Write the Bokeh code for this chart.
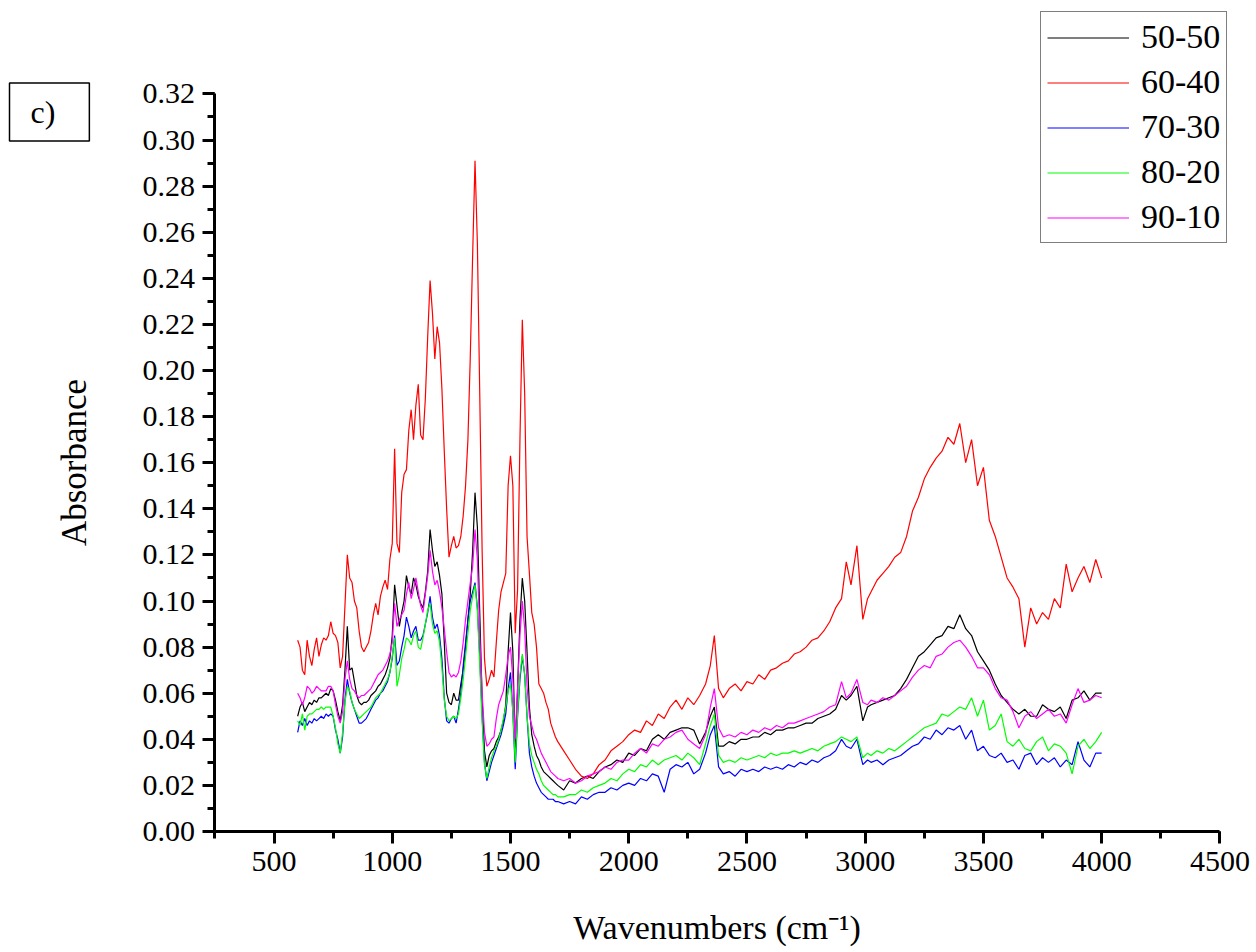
from bokeh.plotting import figure
from bokeh.models import (Range1d, SingleIntervalTicker, NumeralTickFormatter,
                          Legend, LegendItem, Label)
from bokeh.embed import file_html
from bokeh.resources import INLINE

# FTIR absorbance spectra of the five blend ratios
wavenumber = [
    600, 610, 620, 630, 640, 650, 660, 670, 680, 690,
    700, 710, 720, 730, 740, 750, 760, 770, 780, 790,
    800, 810, 820, 830, 840, 850, 860, 870, 880, 890,
    900, 910, 920, 930, 940, 950, 960, 970, 980, 990,
    1000, 1010, 1020, 1030, 1040, 1050, 1060, 1070, 1080, 1090,
    1100, 1110, 1120, 1130, 1140, 1150, 1160, 1170, 1180, 1190,
    1200, 1210, 1220, 1230, 1240, 1250, 1260, 1270, 1280, 1290,
    1300, 1310, 1320, 1330, 1340, 1350, 1360, 1370, 1380, 1390,
    1400, 1410, 1420, 1430, 1440, 1450, 1460, 1470, 1480, 1490,
    1500, 1510, 1520, 1530, 1540, 1550, 1560, 1570, 1580, 1590,
    1600, 1610, 1620, 1630, 1640, 1650, 1660, 1670, 1680, 1690,
    1700,
    1725, 1750, 1775, 1800, 1825, 1850, 1875, 1900, 1925, 1950, 1975,
    2000, 2025, 2050, 2075, 2100, 2125, 2150, 2175, 2200, 2225, 2250, 2275, 2300, 2325,
    2345, 2362, 2380,
    2400, 2425, 2450, 2475, 2500, 2525, 2550, 2575, 2600, 2625, 2650, 2675, 2700,
    2725, 2750, 2775, 2800, 2825, 2850, 2875, 2900,
    2920, 2940, 2965, 2990, 3010,
    3025, 3050, 3075, 3100, 3125, 3150, 3175, 3200, 3225, 3250,
    3275, 3300, 3325, 3350, 3375, 3400, 3425, 3450, 3475, 3500,
    3525, 3550, 3575, 3600, 3625, 3650, 3675, 3700, 3725, 3750,
    3775, 3800, 3825, 3850, 3875, 3900, 3925, 3950, 3975, 4000,
]

abs_50_50 = [
    0.050, 0.054, 0.056, 0.052, 0.054, 0.056, 0.055, 0.057, 0.056, 0.058,
    0.058, 0.059, 0.060, 0.059, 0.062, 0.061, 0.057, 0.052, 0.048, 0.055,
    0.070, 0.089, 0.070, 0.071, 0.065, 0.059, 0.056, 0.055, 0.056, 0.056,
    0.057, 0.059, 0.060, 0.061, 0.063, 0.064, 0.066, 0.068, 0.071, 0.075,
    0.085, 0.107, 0.098, 0.089, 0.095, 0.100, 0.111, 0.106, 0.103, 0.110,
    0.107, 0.102, 0.099, 0.097, 0.104, 0.113, 0.131, 0.122, 0.115, 0.117,
    0.111, 0.103, 0.082, 0.060, 0.056, 0.055, 0.060, 0.057, 0.057, 0.064,
    0.070, 0.080, 0.092, 0.103, 0.122, 0.147, 0.132, 0.095, 0.058, 0.035,
    0.028, 0.033, 0.035, 0.036, 0.039, 0.041, 0.044, 0.048, 0.055, 0.078,
    0.095, 0.078, 0.036, 0.062, 0.092, 0.110, 0.100, 0.078, 0.054, 0.042,
    0.037, 0.033, 0.031, 0.028, 0.026, 0.025, 0.024, 0.023, 0.022, 0.021,
    0.020,
    0.018, 0.022, 0.021, 0.023, 0.024, 0.023, 0.026, 0.028, 0.029, 0.031, 0.030,
    0.034, 0.033, 0.036, 0.035, 0.040, 0.042, 0.040, 0.043, 0.044, 0.045, 0.045, 0.044, 0.038, 0.043,
    0.050, 0.054, 0.037,
    0.037, 0.039, 0.038, 0.040, 0.040, 0.041, 0.041, 0.043, 0.042, 0.044, 0.044, 0.045, 0.045,
    0.046, 0.047, 0.047, 0.049, 0.050, 0.051, 0.053, 0.059,
    0.057, 0.059, 0.063, 0.048, 0.054,
    0.055, 0.056, 0.057, 0.058, 0.059, 0.062, 0.066, 0.071, 0.076, 0.078,
    0.081, 0.084, 0.085, 0.089, 0.088, 0.094, 0.088, 0.085, 0.078, 0.074,
    0.070, 0.064, 0.059, 0.056, 0.053, 0.051, 0.053, 0.050, 0.050, 0.055,
    0.053, 0.052, 0.054, 0.049, 0.057, 0.058, 0.061, 0.057, 0.060, 0.060,
]

abs_60_40 = [
    0.083, 0.080, 0.070, 0.068, 0.083, 0.076, 0.072, 0.079, 0.084, 0.076,
    0.081, 0.084, 0.083, 0.085, 0.091, 0.086, 0.085, 0.082, 0.071, 0.076,
    0.098, 0.120, 0.110, 0.108, 0.100, 0.097, 0.087, 0.080, 0.078, 0.080,
    0.082, 0.087, 0.094, 0.099, 0.094, 0.102, 0.106, 0.109, 0.105, 0.118,
    0.125, 0.166, 0.125, 0.121, 0.147, 0.155, 0.157, 0.174, 0.183, 0.170,
    0.185, 0.194, 0.172, 0.170, 0.188, 0.215, 0.239, 0.225, 0.205, 0.219,
    0.212, 0.192, 0.165, 0.140, 0.119, 0.124, 0.128, 0.123, 0.124, 0.128,
    0.137, 0.150, 0.170, 0.206, 0.250, 0.291, 0.255, 0.190, 0.122, 0.075,
    0.063, 0.066, 0.070, 0.067, 0.082, 0.096, 0.104, 0.108, 0.112, 0.150,
    0.163, 0.150, 0.086, 0.105, 0.170, 0.222, 0.190, 0.128, 0.112, 0.095,
    0.090, 0.080, 0.064, 0.062, 0.060, 0.056, 0.053, 0.047, 0.044, 0.041,
    0.039,
    0.035, 0.031, 0.027, 0.024, 0.023, 0.025, 0.029, 0.031, 0.035, 0.037, 0.039,
    0.042, 0.044, 0.043, 0.048, 0.046, 0.051, 0.049, 0.054, 0.057, 0.053, 0.058, 0.055, 0.059, 0.064,
    0.072, 0.085, 0.062,
    0.058, 0.062, 0.064, 0.061, 0.065, 0.064, 0.068, 0.066, 0.070, 0.071, 0.073, 0.074, 0.077,
    0.078, 0.080, 0.083, 0.084, 0.087, 0.091, 0.097, 0.101,
    0.117, 0.107, 0.124, 0.092, 0.101,
    0.104, 0.109, 0.112, 0.115, 0.119, 0.121, 0.128, 0.139, 0.145, 0.153,
    0.158, 0.162, 0.165, 0.171, 0.168, 0.177, 0.160, 0.170, 0.150, 0.158,
    0.135, 0.128, 0.119, 0.110, 0.106, 0.101, 0.080, 0.097, 0.090, 0.095,
    0.092, 0.101, 0.097, 0.116, 0.104, 0.110, 0.115, 0.108, 0.118, 0.110,
]

abs_70_30 = [
    0.043, 0.048, 0.046, 0.049, 0.046, 0.048, 0.047, 0.049, 0.048, 0.049,
    0.050, 0.049, 0.051, 0.050, 0.051, 0.050, 0.044, 0.040, 0.034, 0.041,
    0.057, 0.066, 0.060, 0.056, 0.053, 0.050, 0.047, 0.047, 0.048, 0.049,
    0.051, 0.053, 0.055, 0.057, 0.058, 0.060, 0.061, 0.063, 0.065, 0.069,
    0.075, 0.085, 0.072, 0.074, 0.080, 0.085, 0.093, 0.089, 0.084, 0.087,
    0.089, 0.083, 0.083, 0.085, 0.090, 0.095, 0.102, 0.093, 0.088, 0.090,
    0.085, 0.075, 0.058, 0.048, 0.047, 0.049, 0.050, 0.047, 0.053, 0.060,
    0.072, 0.082, 0.092, 0.100, 0.104, 0.108, 0.097, 0.076, 0.050, 0.030,
    0.022, 0.026, 0.030, 0.033, 0.036, 0.039, 0.042, 0.046, 0.051, 0.062,
    0.069, 0.052, 0.027, 0.050, 0.066, 0.076, 0.068, 0.050, 0.034, 0.028,
    0.024, 0.021, 0.019, 0.017, 0.016, 0.015, 0.014, 0.014, 0.014, 0.013,
    0.013,
    0.012, 0.013, 0.012, 0.015, 0.014, 0.016, 0.017, 0.017, 0.019, 0.018, 0.020,
    0.021, 0.020, 0.023, 0.022, 0.025, 0.024, 0.017, 0.027, 0.029, 0.028, 0.030, 0.025, 0.027, 0.034,
    0.042, 0.046, 0.028,
    0.025, 0.026, 0.024, 0.027, 0.026, 0.027, 0.026, 0.028, 0.027, 0.028, 0.027, 0.029, 0.028,
    0.030, 0.029, 0.031, 0.030, 0.032, 0.033, 0.035, 0.040,
    0.037, 0.036, 0.040, 0.029, 0.031,
    0.030, 0.031, 0.029, 0.031, 0.032, 0.033, 0.035, 0.037, 0.038, 0.041,
    0.040, 0.044, 0.042, 0.045, 0.044, 0.046, 0.040, 0.044, 0.035, 0.037,
    0.033, 0.032, 0.034, 0.030, 0.031, 0.027, 0.033, 0.034, 0.029, 0.032,
    0.030, 0.032, 0.028, 0.031, 0.029, 0.039, 0.031, 0.028, 0.034, 0.034,
]

abs_80_20 = [
    0.048, 0.046, 0.051, 0.044, 0.050, 0.051, 0.051, 0.052, 0.053, 0.053,
    0.054, 0.053, 0.054, 0.054, 0.054, 0.050, 0.045, 0.038, 0.034, 0.043,
    0.056, 0.063, 0.061, 0.056, 0.053, 0.051, 0.049, 0.050, 0.051, 0.052,
    0.053, 0.054, 0.056, 0.058, 0.059, 0.060, 0.062, 0.064, 0.066, 0.069,
    0.076, 0.084, 0.063, 0.068, 0.075, 0.079, 0.084, 0.083, 0.081, 0.085,
    0.087, 0.080, 0.079, 0.084, 0.090, 0.096, 0.099, 0.090, 0.086, 0.087,
    0.082, 0.071, 0.057, 0.050, 0.048, 0.049, 0.050, 0.049, 0.051, 0.058,
    0.066, 0.076, 0.086, 0.096, 0.102, 0.107, 0.096, 0.072, 0.048, 0.029,
    0.023, 0.028, 0.032, 0.035, 0.037, 0.040, 0.044, 0.049, 0.054, 0.061,
    0.064, 0.052, 0.030, 0.051, 0.068, 0.077, 0.068, 0.050, 0.038, 0.033,
    0.030, 0.027, 0.025, 0.022, 0.020, 0.019, 0.018, 0.017, 0.016, 0.016,
    0.015,
    0.015, 0.016, 0.016, 0.018, 0.017, 0.019, 0.020, 0.021, 0.023, 0.022, 0.025,
    0.027, 0.026, 0.029, 0.028, 0.031, 0.029, 0.031, 0.032, 0.033, 0.031, 0.034, 0.032, 0.029, 0.038,
    0.046, 0.051, 0.033,
    0.030, 0.031, 0.030, 0.032, 0.031, 0.032, 0.033, 0.032, 0.034, 0.033, 0.034, 0.034, 0.035,
    0.034, 0.035, 0.036, 0.035, 0.037, 0.038, 0.039, 0.041,
    0.040, 0.039, 0.041, 0.032, 0.034,
    0.033, 0.035, 0.034, 0.036, 0.035, 0.037, 0.039, 0.041, 0.043, 0.045,
    0.046, 0.047, 0.051, 0.050, 0.052, 0.054, 0.053, 0.058, 0.050, 0.057,
    0.044, 0.046, 0.051, 0.039, 0.037, 0.040, 0.036, 0.035, 0.039, 0.041,
    0.035, 0.038, 0.037, 0.034, 0.025, 0.037, 0.040, 0.036, 0.039, 0.043,
]

abs_90_10 = [
    0.060, 0.058, 0.055, 0.058, 0.063, 0.062, 0.060, 0.061, 0.063, 0.062,
    0.061, 0.061, 0.061, 0.063, 0.063, 0.061, 0.055, 0.050, 0.047, 0.052,
    0.066, 0.074, 0.066, 0.062, 0.061, 0.059, 0.058, 0.059, 0.059, 0.060,
    0.061, 0.062, 0.064, 0.066, 0.068, 0.069, 0.070, 0.072, 0.074, 0.077,
    0.082, 0.099, 0.089, 0.092, 0.094, 0.096, 0.103, 0.108, 0.101, 0.105,
    0.110, 0.104, 0.098, 0.095, 0.103, 0.111, 0.122, 0.113, 0.107, 0.109,
    0.104, 0.097, 0.088, 0.078, 0.069, 0.067, 0.068, 0.067, 0.069, 0.074,
    0.082, 0.092, 0.100, 0.108, 0.115, 0.131, 0.118, 0.085, 0.060, 0.043,
    0.037, 0.038, 0.040, 0.041, 0.049, 0.055, 0.058, 0.061, 0.068, 0.076,
    0.080, 0.066, 0.040, 0.062, 0.085, 0.100, 0.088, 0.063, 0.050, 0.046,
    0.042, 0.040, 0.037, 0.034, 0.032, 0.030, 0.028, 0.026, 0.025, 0.024,
    0.023,
    0.022, 0.023, 0.021, 0.022, 0.024, 0.025, 0.026, 0.028, 0.027, 0.030, 0.031,
    0.031, 0.034, 0.036, 0.034, 0.038, 0.037, 0.040, 0.041, 0.043, 0.044, 0.040, 0.038, 0.036, 0.042,
    0.054, 0.062, 0.045,
    0.041, 0.042, 0.041, 0.043, 0.042, 0.044, 0.043, 0.045, 0.044, 0.046, 0.045, 0.047, 0.047,
    0.048, 0.049, 0.050, 0.051, 0.052, 0.054, 0.055, 0.065,
    0.058, 0.060, 0.066, 0.056, 0.055,
    0.057, 0.056, 0.058, 0.057, 0.059, 0.061, 0.063, 0.067, 0.070, 0.072,
    0.071, 0.076, 0.077, 0.080, 0.082, 0.083, 0.080, 0.076, 0.071, 0.071,
    0.068, 0.062, 0.058, 0.057, 0.052, 0.045, 0.050, 0.052, 0.049, 0.051,
    0.053, 0.050, 0.051, 0.047, 0.055, 0.062, 0.056, 0.057, 0.059, 0.058,
]

series_names = ["50-50", "60-40", "70-30", "80-20", "90-10"]
series_values = [abs_50_50, abs_60_40, abs_70_30, abs_80_20, abs_90_10]
series_colors = ["#000000", "#ff0000", "#0000ff", "#00ff00", "#ff00ff"]

x_axis_span = (250, 4500)
y_axis_span = (0, 0.32)
x_ticks_step = 500
y_ticks_step = 0.02

SERIF = "Liberation Serif"

# The frame covers the whole canvas so that the legend and the panel tag
# sit inside it; the axes are pinned at fixed data positions with bounds.
W, H = 1256, 952
AX_LEFT_PX, AX_RIGHT_PX = 214.4, 1219.4     # screen x of 250 and 4500
AX_TOP_PX, AX_BOTTOM_PX = 93.4, 831.0       # screen y of 0.32 and 0
x_per_px = (x_axis_span[1] - x_axis_span[0]) / (AX_RIGHT_PX - AX_LEFT_PX)
y_per_px = (y_axis_span[1] - y_axis_span[0]) / (AX_BOTTOM_PX - AX_TOP_PX)
x_start = x_axis_span[0] - AX_LEFT_PX * x_per_px
x_end = x_axis_span[0] + (W - AX_LEFT_PX) * x_per_px
y_start = y_axis_span[0] - (H - AX_BOTTOM_PX) * y_per_px
y_end = y_axis_span[0] + AX_BOTTOM_PX * y_per_px

p = figure(
    width=W, height=H,
    output_backend="svg", toolbar_location=None,
    x_range=Range1d(x_start, x_end), y_range=Range1d(y_start, y_end),
    min_border=0,
)
p.outline_line_color = None
p.xgrid.visible = False
p.ygrid.visible = False
p.background_fill_color = "white"
p.border_fill_color = "white"

for ax in (p.xaxis[0], p.yaxis[0]):
    ax.axis_line_width = 3
    ax.major_tick_line_width = 3
    ax.minor_tick_line_width = 3
    ax.major_tick_in = 0
    ax.major_tick_out = 12
    ax.minor_tick_in = 0
    ax.minor_tick_out = 7
    ax.major_label_text_font = SERIF
    ax.major_label_text_font_size = "30px"
    ax.major_label_text_color = "black"
    ax.axis_label_text_font = SERIF
    ax.axis_label_text_font_style = "normal"
    ax.axis_label_text_color = "black"

p.xaxis.fixed_location = y_axis_span[0]
p.yaxis.fixed_location = x_axis_span[0]
p.xaxis.bounds = x_axis_span
p.yaxis.bounds = y_axis_span

p.xaxis.ticker = SingleIntervalTicker(interval=x_ticks_step, num_minor_ticks=2)
p.yaxis.ticker = SingleIntervalTicker(interval=y_ticks_step, num_minor_ticks=2)
p.yaxis.formatter = NumeralTickFormatter(format="0.00")
p.xaxis.major_label_standoff = 8
p.yaxis.major_label_standoff = 8

p.xaxis.axis_label = "Wavenumbers (cm\u207b\u00b9)"
p.xaxis.axis_label_text_font_size = "34px"
p.xaxis.axis_label_standoff = 35
p.yaxis.axis_label = "Absorbance"
p.yaxis.axis_label_text_font_size = "35px"
p.yaxis.axis_label_standoff = 45

items = []
for name, vals, col in zip(series_names, series_values, series_colors):
    r = p.line(wavenumber, vals, line_color=col, line_width=1.2)
    items.append(LegendItem(label=name, renderers=[r]))

legend = Legend(
    items=items,
    location=(1040, H - 243),
    border_line_color="black", border_line_width=1.5,
    background_fill_color="white", background_fill_alpha=1.0,
    label_text_font=SERIF, label_text_font_size="34px",
    label_text_color="black",
    glyph_width=82, glyph_height=37, label_height=37,
    label_standoff=12, spacing=7, padding=6, margin=0,
)
p.add_layout(legend)

panel_tag = Label(
    x=9, y=H - 111.5, x_units="screen", y_units="screen", text="c)",
    text_font=SERIF, text_font_size="32px", text_color="black",
    text_align="left", text_baseline="middle",
    border_line_color="black", border_line_width=1.5,
    background_fill_color="white",
    padding=dict(left=21, right=34, top=11, bottom=11),
)
p.add_layout(panel_tag)

open("out.html", "w").write(file_html(p, INLINE))
